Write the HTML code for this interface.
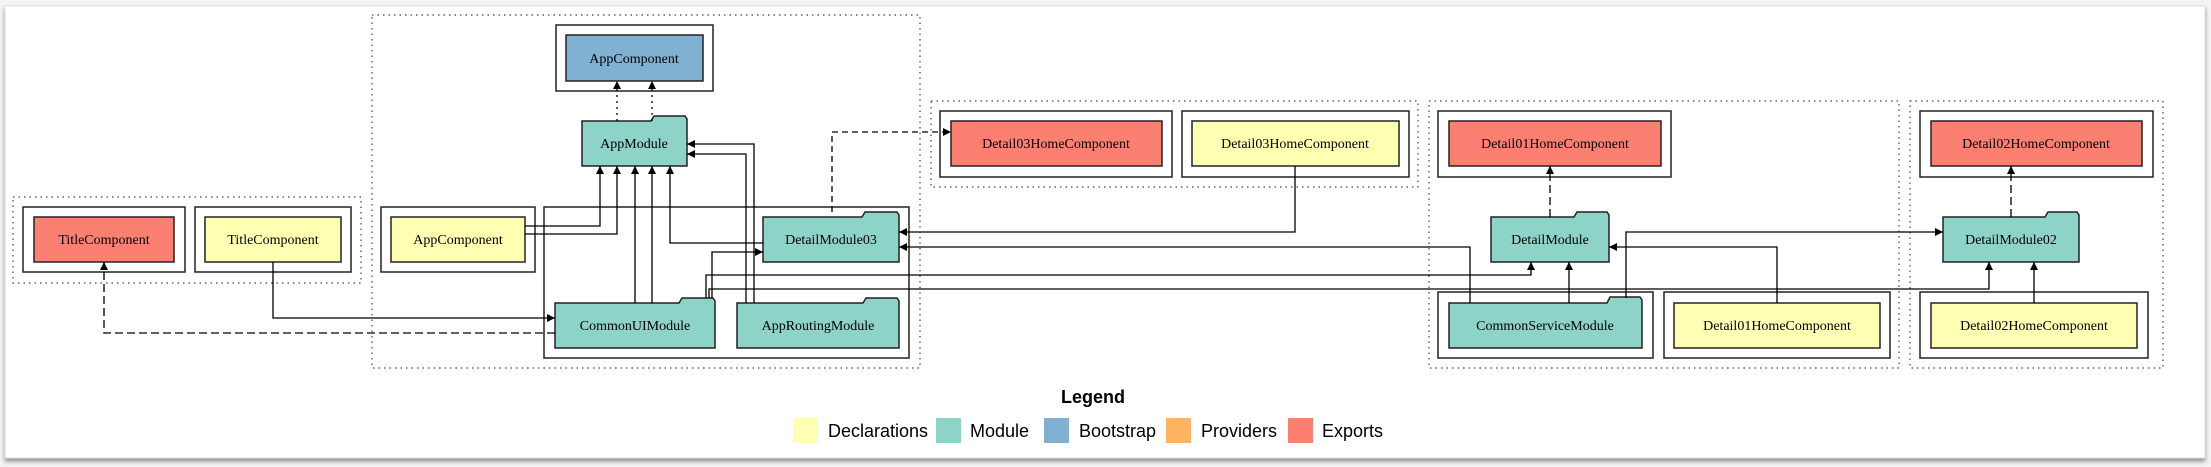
<!DOCTYPE html>
<html><head><meta charset="utf-8"><style>
html,body{margin:0;padding:0;background:#fff;width:2211px;height:467px;overflow:hidden}
svg{display:block}
text{font-family:"Liberation Serif",serif;font-size:14px}
.lg{font-family:"Liberation Sans",sans-serif;font-size:18px}
</style></head><body>
<svg width="2211" height="467" viewBox="0 0 2211 467" xmlns="http://www.w3.org/2000/svg">
<defs>
<marker id="a" viewBox="0 0 10 10" refX="10" refY="5" markerWidth="10" markerHeight="8" markerUnits="userSpaceOnUse" orient="auto"><path d="M0,0L10,5L0,10Z" fill="#000"/></marker>
<filter id="sh" x="-5%" y="-5%" width="110%" height="120%"><feDropShadow dx="0" dy="3" stdDeviation="2" flood-color="#777" flood-opacity="0.8"/></filter>
</defs>
<rect x="0" y="0" width="2211" height="467" fill="#f4f4f4"/>
<rect x="5" y="6" width="2200" height="452" fill="#fff" stroke="#ddd" filter="url(#sh)"/>

<g fill="none" stroke="#444" stroke-width="1.2" stroke-dasharray="1.5,4">
<rect x="372" y="15" width="548" height="353"/>
<rect x="13" y="197" width="348" height="86"/>
<rect x="931" y="101" width="487" height="86"/>
<rect x="1429" y="101" width="470" height="267"/>
<rect x="1910" y="101" width="253" height="267"/>
</g>

<g fill="#fff" stroke="#222" stroke-width="1.5">
<rect x="556" y="25" width="157" height="66"/>
<rect x="23" y="207" width="162" height="65"/>
<rect x="195" y="207" width="156" height="65"/>
<rect x="381" y="207" width="154" height="65"/>
<rect x="544" y="207" width="365" height="151"/>
<rect x="940" y="111" width="232" height="66"/>
<rect x="1182" y="111" width="227" height="66"/>
<rect x="1438" y="111" width="233" height="66"/>
<rect x="1438" y="292" width="215" height="66"/>
<rect x="1664" y="292" width="226" height="66"/>
<rect x="1920" y="111" width="233" height="66"/>
<rect x="1920" y="292" width="228" height="66"/>
</g>

<g stroke="#222" stroke-width="1.5">
<rect x="566" y="35" width="137" height="46" fill="#80b1d3"/>
<rect x="34" y="217" width="140" height="45" fill="#fb8072"/>
<rect x="205" y="217" width="136" height="45" fill="#ffffb3"/>
<rect x="391" y="217" width="134" height="45" fill="#ffffb3"/>
<rect x="951" y="121" width="211" height="45" fill="#fb8072"/>
<rect x="1192" y="121" width="207" height="45" fill="#ffffb3"/>
<rect x="1449" y="121" width="212" height="45" fill="#fb8072"/>
<rect x="1674" y="303" width="206" height="45" fill="#ffffb3"/>
<rect x="1931" y="121" width="211" height="45" fill="#fb8072"/>
<rect x="1931" y="303" width="206" height="45" fill="#ffffb3"/>
</g>

<g stroke="#222" stroke-width="1.5" fill="#8dd3c7">
<path d="M582,121H651L654,116H685L687,119V166H582Z"/>
<path d="M763,217H862L865,212H897L899,215V262H763Z"/>
<path d="M555,303H679L682,298H713L715,301V348H555Z"/>
<path d="M737,303H863L866,298H897L899,301V348H737Z"/>
<path d="M1491,217H1574L1577,212H1607L1609,215V262H1491Z"/>
<path d="M1449,303H1607L1610,297H1640L1642,300V348H1449Z"/>
<path d="M1943,217H2045L2048,212H2077L2079,215V262H1943Z"/>
</g>

<g fill="#000" text-anchor="middle">
<text x="634" y="63">AppComponent</text>
<text x="104" y="244">TitleComponent</text>
<text x="273" y="244">TitleComponent</text>
<text x="458" y="244">AppComponent</text>
<text x="634" y="148">AppModule</text>
<text x="831" y="244">DetailModule03</text>
<text x="635" y="330">CommonUIModule</text>
<text x="818" y="330">AppRoutingModule</text>
<text x="1056" y="148">Detail03HomeComponent</text>
<text x="1295" y="148">Detail03HomeComponent</text>
<text x="1555" y="148">Detail01HomeComponent</text>
<text x="1550" y="244">DetailModule</text>
<text x="1545" y="330">CommonServiceModule</text>
<text x="1777" y="330">Detail01HomeComponent</text>
<text x="2036" y="148">Detail02HomeComponent</text>
<text x="2011" y="244">DetailModule02</text>
<text x="2034" y="330">Detail02HomeComponent</text>
</g>

<g fill="none" stroke="#000" stroke-width="1.3" marker-end="url(#a)">
<path d="M617,121V81" stroke-dasharray="2,4"/>
<path d="M652,121V81" stroke-dasharray="2,4"/>
<path d="M525,226H600V166"/>
<path d="M525,234H617V166"/>
<path d="M635,303V166"/>
<path d="M652,303V166"/>
<path d="M763,243H670V166"/>
<path d="M754,303V144H687"/>
<path d="M746,303V154H687"/>
<path d="M832,212V132H951" stroke-dasharray="6,4"/>
<path d="M712,298V252H763"/>
<path d="M706,298V275H1531V262"/>
<path d="M709,298V289H1989V262"/>
<path d="M273,262V318H555"/>
<path d="M555,333H104V262" stroke-dasharray="8,4"/>
<path d="M1295,166V232H899"/>
<path d="M1470,303V247H899"/>
<path d="M1569,303V262"/>
<path d="M1777,303V247H1609"/>
<path d="M1626,298V232H1943"/>
<path d="M2034,303V262"/>
<path d="M1550,217V166" stroke-dasharray="8,4"/>
<path d="M2011,217V166" stroke-dasharray="8,4"/>
</g>

<text class="lg" x="1093" y="403" text-anchor="middle" font-weight="bold">Legend</text>
<rect x="793" y="418" width="25" height="25" fill="#ffffb3"/>
<text class="lg" x="828" y="437">Declarations</text>
<rect x="936" y="418" width="25" height="25" fill="#8dd3c7"/>
<text class="lg" x="970" y="437">Module</text>
<rect x="1044" y="418" width="25" height="25" fill="#80b1d3"/>
<text class="lg" x="1079" y="437">Bootstrap</text>
<rect x="1166" y="418" width="25" height="25" fill="#fdb462"/>
<text class="lg" x="1201" y="437">Providers</text>
<rect x="1288" y="418" width="25" height="25" fill="#fb8072"/>
<text class="lg" x="1322" y="437">Exports</text>
</svg>
</body></html>
